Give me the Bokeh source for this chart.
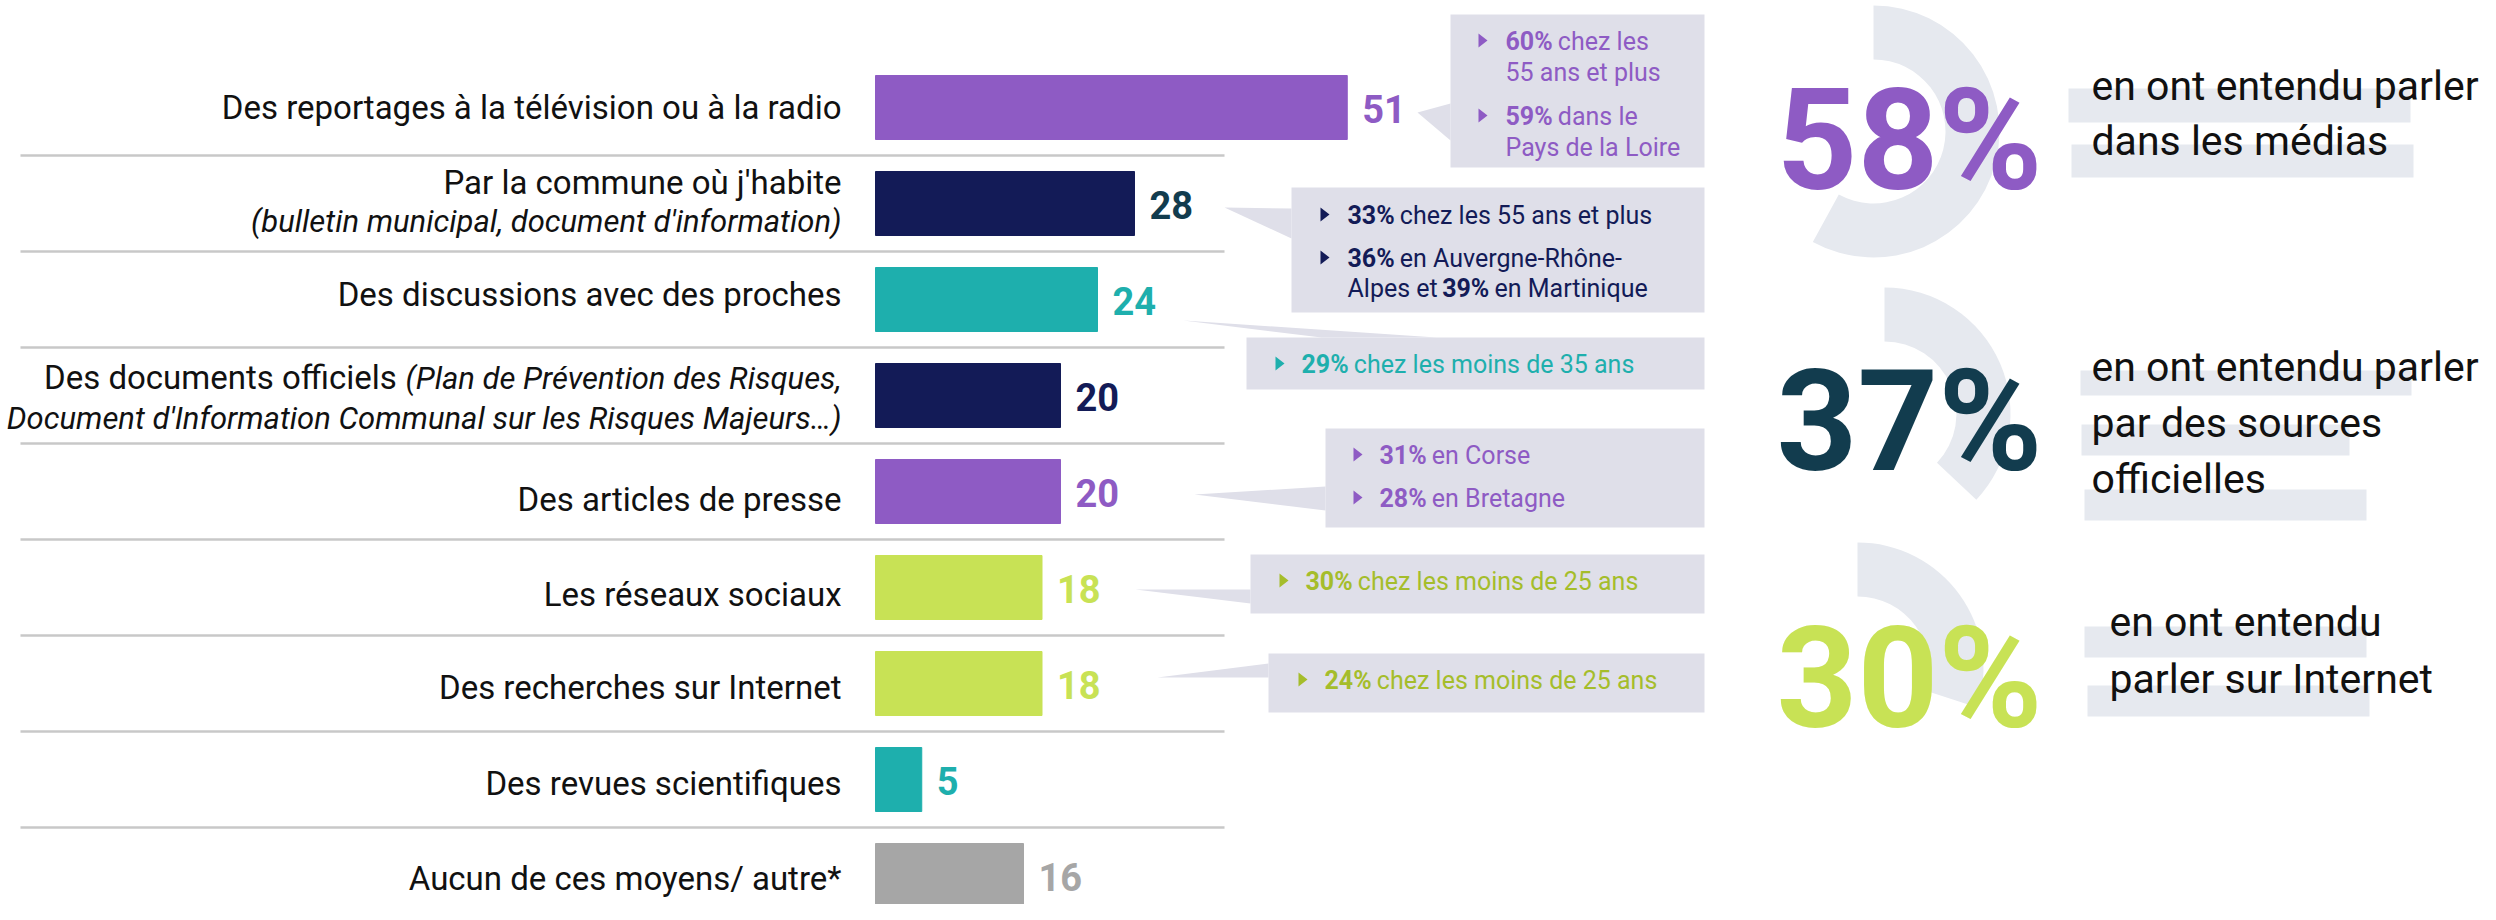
import math
from bokeh.plotting import figure
from bokeh.models import Range1d, ColumnDataSource
from bokeh.embed import file_html
from bokeh.resources import INLINE
from bokeh.core.properties import value

# ---------------- data ----------------
categories = [
    "Des reportages à la télévision ou à la radio",
    "Par la commune où j'habite",
    "Des discussions avec des proches",
    "Des documents officiels",
    "Des articles de presse",
    "Les réseaux sociaux",
    "Des recherches sur Internet",
    "Des revues scientifiques",
    "Aucun de ces moyens/ autre*",
]
values = [51, 28, 24, 20, 20, 18, 18, 5, 16]

PURPLE = "#8e5bc4"
NAVY = "#131b57"
TEAL = "#1eafad"
LIME = "#c8e255"
GRAY = "#a6a6a6"
PETROL = "#123c4e"
bar_colors = [PURPLE, NAVY, TEAL, NAVY, PURPLE, LIME, LIME, TEAL, GRAY]
value_colors = [PURPLE, PETROL, TEAL, NAVY, PURPLE, LIME, LIME, TEAL, GRAY]

# label lines: list of runs (text, style)
label_lines = [
    [[("Des reportages à la télévision ou à la radio", "normal")]],
    [[("Par la commune où j'habite", "normal")],
     [("(bulletin municipal, document d'information)", "italic")]],
    [[("Des discussions avec des proches", "normal")]],
    [[("Des documents officiels ", "normal"), ("(Plan de Prévention des Risques,", "italic")],
     [("Document d'Information Communal sur les Risques Majeurs…)", "italic")]],
    [[("Des articles de presse", "normal")]],
    [[("Les réseaux sociaux", "normal")]],
    [[("Des recherches sur Internet", "normal")]],
    [[("Des revues scientifiques", "normal")]],
    [[("Aucun de ces moyens/ autre*", "normal")]],
]

# callouts: (row, colour, lines) ; each line = (bullet, runs[(text, bold)])
callouts = [
    (0, PURPLE, [(True, [("60%", True), (" chez les", False)]),
                 (False, [("55 ans et plus", False)]),
                 (True, [("59%", True), (" dans le", False)]),
                 (False, [("Pays de la Loire", False)])]),
    (1, NAVY, [(True, [("33%", True), (" chez les 55 ans et plus", False)]),
               (True, [("36%", True), (" en Auvergne-Rhône-", False)]),
               (False, [("Alpes et ", False), ("39%", True), (" en Martinique", False)])]),
    (2, TEAL, [(True, [("29%", True), (" chez les moins de 35 ans", False)])]),
    (4, PURPLE, [(True, [("31%", True), (" en Corse", False)]),
                 (True, [("28%", True), (" en Bretagne", False)])]),
    (5, "#a5bd2b", [(True, [("30%", True), (" chez les moins de 25 ans", False)])]),
    (6, "#a5bd2b", [(True, [("24%", True), (" chez les moins de 25 ans", False)])]),
]

summary_pcts = [58, 37, 30]
summary_colors = [PURPLE, PETROL, LIME]
summary_texts = [
    ["en ont entendu parler", "dans les médias"],
    ["en ont entendu parler", "par des sources", "officielles"],
    ["en ont entendu", "parler sur Internet"],
]

# ---------------- layout (pixel geometry) ----------------
X0, PPU = 875.0, 9.25      # bar origin px, px per unit
Y0, ROW = 107.0, 96.0      # first row centre px, row pitch px
K = 0.33                   # baseline correction (fraction of font size)


def X(px):
    return (px - X0) / PPU


def Y(py):
    return (py - Y0) / ROW


def TY(base_px, size):
    return Y(base_px - K * size)


FONT = value("Roboto")
W = {' ': 507, '(': 683, ')': 694, ',': 393, '.': 539, "'": 349, '-': 552, '…': 1330, '/': 843, '*': 862,
     'A': 1336, 'C': 1333, 'D': 1344, 'I': 557, 'L': 1100, 'M': 1791, 'P': 1294, 'R': 1261,
     'a': 1088, 'b': 1120, 'c': 1045, 'd': 1126, 'e': 1058, 'f': 693, 'g': 1120, 'h': 1101,
     'i': 486, 'j': 477, 'k': 1013, 'l': 486, 'm': 1751, 'n': 1103, 'o': 1139, 'p': 1120,
     'q': 1126, 'r': 677, 's': 1031, 't': 653, 'u': 1102, 'v': 968, 'w': 1502, 'x': 991,
     'y': 946, 'z': 991, 'é': 1058, 'è': 1058, 'à': 1088, 'ô': 1139, 'ù': 1102, '%': 1465}


def tw(s, size, bold=False):
    tot = 0
    for ch in s:
        if ch.isdigit():
            tot += 1150
        elif bold and ch == '%':
            tot += 1480
        else:
            tot += W.get(ch, 1050) * (1.04 if bold else 1.0)
    return tot / 2048.0 * size


p = figure(width=2480, height=904, output_backend="svg", toolbar_location=None,
           x_range=Range1d(X(0), X(2480)), y_range=Range1d(Y(904), Y(0)),
           min_border=0)
p.axis.visible = False
p.grid.visible = False
p.outline_line_color = None
p.background_fill_color = "white"

rows = list(range(len(values)))

# separators
sep_y = [i + 0.5 for i in rows[:-1]]
p.segment(x0=[X(20)] * len(sep_y), x1=[X(1224)] * len(sep_y), y0=sep_y, y1=sep_y,
          line_color="#c8c8c8", line_width=2.5)

# bars
src = ColumnDataSource(dict(y=rows, right=values, color=bar_colors))
p.hbar(y="y", left=0, right="right", height=64 / ROW, color="color", source=src)

# value labels
VS = 38
p.text(x=[v + 15 / PPU for v in values], y=[i + (14 - K * VS) / ROW for i in rows],
       text=[str(v) for v in values], text_color=value_colors, text_font=FONT,
       text_font_style="bold", text_font_size=f"{VS}px", text_baseline="alphabetic",
       text_align="left")

# category labels
LABEL_SIZE = 33
ITAL_SIZE = 31
label_base = [[11], [-10, 28], [6], [-7, 33], [19], [18], [15], [15], [14]]
for i, lines in enumerate(label_lines):
    for li, runs in enumerate(lines):
        xr = 841.0
        by = Y0 + i * ROW + label_base[i][li]
        for txt, style in reversed(runs):
            size = ITAL_SIZE if style == "italic" else LABEL_SIZE
            p.text(x=[X(xr)], y=[TY(by, size)], text=[txt.strip()], text_font=FONT,
                   text_font_style=style, text_font_size=f"{size}px", text_color="#111111",
                   text_align="right", text_baseline="alphabetic")
            xr -= tw(txt.strip(), size) + 0.5 * tw(" ", LABEL_SIZE)

# callout geometry (px)
BOX = "#dfdfe9"
callout_geom = {
    0: dict(box=(1450, 1704, 14, 167), tri=[(1417, 112), (1450, 103), (1450, 140)],
            tx=1505, bx=1478, base=[49, 80, 124, 155]),
    1: dict(box=(1291, 1704, 187, 312), tri=[(1224, 207), (1291, 208), (1291, 238)],
            tx=1347, bx=1320, base=[223, 266, 296]),
    2: dict(box=(1246, 1704, 337, 389), tri=[(1183, 320), (1436, 337), (1321, 337)],
            tx=1301, bx=1275, base=[372]),
    4: dict(box=(1325, 1704, 428, 527), tri=[(1194, 494), (1325, 486), (1325, 510)],
            tx=1379, bx=1353, base=[463, 506]),
    5: dict(box=(1250, 1704, 554, 613), tri=[(1135, 589), (1250, 589), (1250, 603)],
            tx=1305, bx=1279, base=[589]),
    6: dict(box=(1268, 1704, 653, 712), tri=[(1157, 677), (1268, 663), (1268, 677)],
            tx=1324, bx=1298, base=[688]),
}
CS = 25
for row, col, lines in callouts:
    g = callout_geom[row]
    l, r, t, b = g["box"]
    p.quad(left=[X(l)], right=[X(r)], top=[Y(t)], bottom=[Y(b)], fill_color=BOX, line_color=None)
    p.patch(x=[X(a) for a, _ in g["tri"]], y=[Y(c) for _, c in g["tri"]], fill_color=BOX, line_color=None)
    for (bullet, runs), by in zip(lines, g["base"]):
        if bullet:
            cy = by - 9
            bx = g["bx"]
            p.patch(x=[X(bx), X(bx + 9), X(bx)], y=[Y(cy - 7), Y(cy), Y(cy + 7)],
                    fill_color=col, line_color=None)
        xl = g["tx"]
        for txt, bold in runs:
            lead = len(txt) - len(txt.lstrip(" "))
            xs = xl + tw(" " * lead, CS)
            p.text(x=[X(xs)], y=[TY(by, CS)], text=[txt.strip()], text_font=FONT,
                   text_font_style="bold" if bold else "normal", text_font_size=f"{CS}px",
                   text_color=col, text_align="left", text_baseline="alphabetic")
            xl += tw(txt, CS, bold)

# summary block
ARC = "#e6e9ef"
arc_centres = [(1873, 131), (1884, 413), (1857, 668)]
pct_base = [187, 468, 725]
for (cx, cy), pct in zip(arc_centres, summary_pcts):
    p.annular_wedge(x=[X(cx)], y=[Y(cy)], inner_radius=72, outer_radius=126,
                    inner_radius_units="screen", outer_radius_units="screen",
                    start_angle=math.pi / 2, end_angle=math.pi / 2 - pct / 100 * 2 * math.pi,
                    direction="clock", fill_color=ARC, line_color=None)

highlights = [
    [(2068, 2410, 88, 122), (2071, 2413, 144, 177)],
    [(2080, 2411, 370, 395), (2081, 2349, 424, 455), (2084, 2366, 489, 520)],
    [(2084, 2366, 626, 657), (2087, 2369, 685, 716)],
]
text_x = [2091, 2091, 2109]
text_base = [[99, 154], [380, 436, 492], [635, 692]]
RS = 41
PS = 141
for gi in range(3):
    for (l, r, t, b) in highlights[gi]:
        p.quad(left=[X(l)], right=[X(r)], top=[Y(t)], bottom=[Y(b)], fill_color=ARC, line_color=None)
    for txt, by in zip(summary_texts[gi], text_base[gi]):
        p.text(x=[X(text_x[gi])], y=[TY(by, RS)], text=[txt], text_font=FONT, text_font_size=f"{RS}px",
               text_color="#111111", text_align="left", text_baseline="alphabetic")
    p.text(x=[X(1776)], y=[TY(pct_base[gi], PS)], text=[f"{summary_pcts[gi]}%"], text_font=FONT,
           text_font_style="bold", text_font_size=f"{PS}px", text_color=summary_colors[gi],
           text_align="left", text_baseline="alphabetic")

open("out.html", "w").write(file_html(p, INLINE))
